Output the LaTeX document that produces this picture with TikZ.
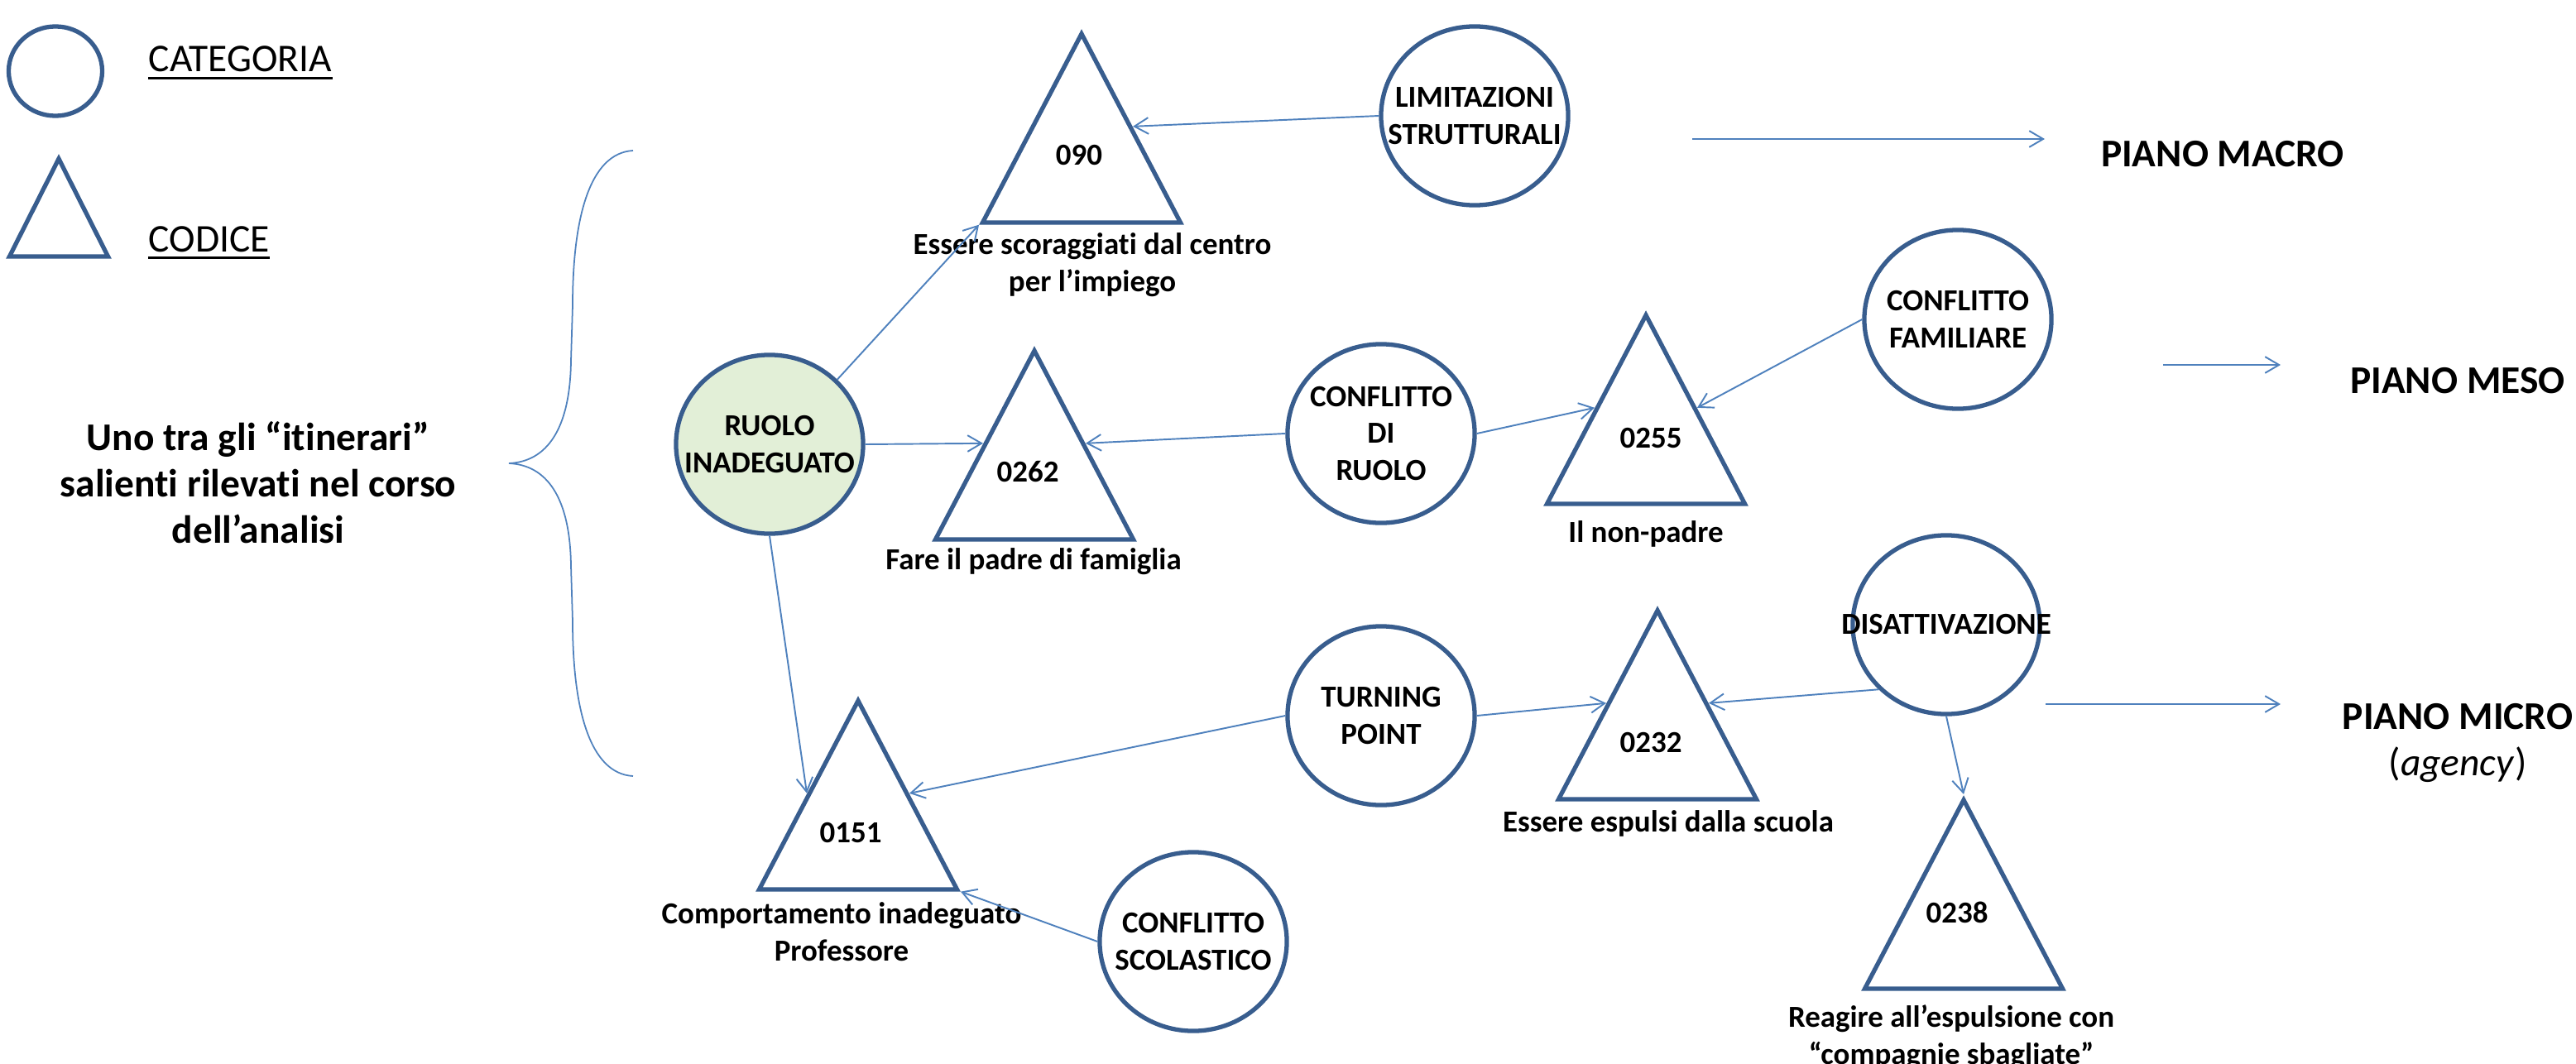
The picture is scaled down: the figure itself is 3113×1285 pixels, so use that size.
\documentclass[tikz,border=0pt]{standalone}
\usepackage{fontspec}
\setmainfont{Carlito}[Ligatures=NoCommon]
\usetikzlibrary{shapes.geometric,arrows.meta,positioning,calc}
\definecolor{bordo}{RGB}{56,93,142}
\definecolor{blulink}{RGB}{79,129,189}
\definecolor{verdino}{RGB}{226,239,215}

\begin{document}
\begin{tikzpicture}[x=0.01cm, y=-0.01cm,
    categoria/.style={ellipse, draw=bordo, line width=1.5pt, minimum width=2.26cm, minimum height=2.16cm,
        inner xsep=-15pt, inner ysep=0pt, align=center, font=\fontsize{10.5}{12.7}\selectfont\bfseries},
    codice/.style={isosceles triangle, isosceles triangle stretches, shape border rotate=90, draw=bordo,
        line width=1.5pt, minimum width=2.39cm, minimum height=2.28cm, inner sep=0pt, anchor=apex},
    numero/.style={font=\fontsize{10.5}{12.7}\selectfont\bfseries},
    didascalia/.style={align=center, font=\fontsize{10.5}{12.8}\selectfont\bfseries},
    grande/.style={align=center, font=\fontsize{13.5}{16}\selectfont\bfseries},
    voce/.style={anchor=base west, inner sep=0pt, font=\fontsize{13.5}{16}\selectfont},
    sotto/.style={line width=0.85pt},
    link/.style={draw=blulink, line width=0.55pt, -{Straight Barb[length=4.8pt,width=5.6pt]}}
]
\useasboundingbox (0,0) rectangle (3113,1285);

% legenda
\node[categoria, minimum width=1.13cm, minimum height=1.08cm] (legcat) at (67,86) {};
\node[voce] (txtcat) at (179,87) {CATEGORIA};
\draw[sotto] ([yshift=-2.2pt]txtcat.base west) -- ([yshift=-2.2pt]txtcat.base east);
\node[codice, minimum width=1.19cm, minimum height=1.18cm] (legcod) at (71,185) {};
\node[voce] (txtcod) at (179,304) {CODICE};
\draw[sotto] ([yshift=-2.2pt]txtcod.base west) -- ([yshift=-2.2pt]txtcod.base east);

\node[grande] (itinerario) at (312,583) {Uno tra gli “itinerari”\\salienti rilevati nel corso\\dell’analisi};
\draw[blulink, line width=0.5pt] (765,182) .. controls (712,185) and (692,265) .. (692,369) -- (690,436)
    .. controls (689,520) and (660,558) .. (615,560) .. controls (660,562) and (689,600) .. (690,684)
    -- (692,751) .. controls (692,855) and (712,935) .. (765,938);

% categorie
\node[categoria, fill=verdino] (ruolo) at (930,537) {RUOLO\\INADEGUATO};
\node[categoria] (limit) at (1782,140) {LIMITAZIONI\\STRUTTURALI};
\node[categoria] (confruolo) at (1669,524) {CONFLITTO\\DI\\RUOLO};
\node[categoria] (conffam) at (2366,386) {CONFLITTO\\FAMILIARE};
\node[categoria] (turning) at (1669,865) {TURNING\\POINT};
\node[categoria] (disatt) at (2352,755) {DISATTIVAZIONE};
\node[categoria] (confscol) at (1442,1138) {CONFLITTO\\SCOLASTICO};

% codici
\node[codice] (c090) at (1307,34) {};
\node[codice] (c0262) at (1250,417) {};
\node[codice] (c0255) at (1989,374) {};
\node[codice] (c0151) at (1037,840) {};
\node[codice] (c0232) at (2003,731) {};
\node[codice] (c0238) at (2373,960) {};

\node[numero] (n090) at (1304,188) {090};
\node[numero] (n0262) at (1242,570) {0262};
\node[numero] (n0255) at (1995,530) {0255};
\node[numero] (n0151) at (1028,1007) {0151};
\node[numero] (n0232) at (1995,898) {0232};
\node[numero] (n0238) at (2365,1103) {0238};

\node[didascalia] (d090) at (1320,320) {Essere scoraggiati dal centro\\per l’impiego};
\node[didascalia] (d0262) at (1249,679) {Fare il padre di famiglia};
\node[didascalia] (d0255) at (1989,645) {Il non-padre};
\node[didascalia] (d0151) at (1017,1126) {Comportamento inadeguato\\Professore};
\node[didascalia] (d0232) at (2016,995) {Essere espulsi dalla scuola};
\node[didascalia] (d0238) at (2358,1254) {Reagire all’espulsione con\\“compagnie sbagliate”};

\draw[link] (limit.west) -- (c090.right side);
\draw[link] (ruolo.north east) -- (c090.left corner);
\draw[link] (ruolo.east) -- (c0262.left side);
\draw[link] (confruolo.west) -- (c0262.right side);
\draw[link] (confruolo.east) -- (c0255.left side);
\draw[link] (conffam.west) -- (c0255.right side);
\draw[link] (ruolo.south) -- (c0151.left side);
\draw[link] (turning.west) -- (c0151.right side);
\draw[link] (confscol.west) -- (c0151.right corner);
\draw[link] (turning.east) -- (c0232.left side);
\draw[link] (disatt.south west) -- (c0232.right side);
\draw[link] (disatt.south) -- (c0238.apex);

% piani
\coordinate (macroA) at (2045,168);
\coordinate (macroB) at (2471,168);
\coordinate (mesoA) at (2614,441);
\coordinate (mesoB) at (2756,441);
\coordinate (microA) at (2472,851);
\coordinate (microB) at (2756,851);
\draw[link] (macroA) -- (macroB);
\draw[link] (mesoA) -- (mesoB);
\draw[link] (microA) -- (microB);

\node[grande] (pmacro) at (2686,186) {PIANO MACRO};
\node[grande] (pmeso) at (2970,460) {PIANO MESO};
\node[grande] (pmicro) at (2970,898) {PIANO MICRO\\{\mdseries(\textit{agency})}};
\end{tikzpicture}
\end{document}
